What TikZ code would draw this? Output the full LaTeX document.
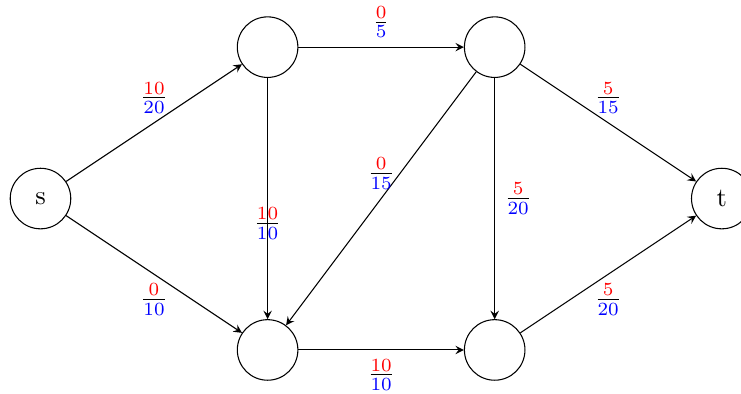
\documentclass[tikz,border=0pt]{standalone}
\usepackage{xcolor}
\newcommand\flowfrac[2]{$\frac{\textcolor{red}{#1}}{\textcolor{blue}{#2}}$}
\begin{document}
\begin{tikzpicture}[
  vert/.style={draw, circle, minimum size=0.8cm, inner sep=0pt},
  flow/.style={-stealth},
  lab/.style={inner sep=0pt}]
\useasboundingbox (-0.535,-2.570) rectangle (9.254,2.623);
\node[vert] (s) at (0,0) {s};
\node[vert] (a) at (3,2) {};
\node[vert] (b) at (6,2) {};
\node[vert] (c) at (3,-2) {};
\node[vert] (d) at (6,-2) {};
\node[vert] (t) at (9,0) {t};
\draw[flow] (s) -- node[lab, yshift=0.33cm] {\flowfrac{10}{20}} (a);
\draw[flow] (s) -- node[lab, yshift=-0.33cm] {\flowfrac{0}{10}} (c);
\draw[flow] (a) -- node[lab, yshift=0.33cm] {\flowfrac{0}{5}} (b);
\draw[flow] (a) -- node[lab, yshift=-0.33cm] {\flowfrac{10}{10}} (c);
\draw[flow] (b) -- node[lab, yshift=0.33cm] {\flowfrac{0}{15}} (c);
\draw[flow] (b) -- node[lab, xshift=0.31cm] {\flowfrac{5}{20}} (d);
\draw[flow] (b) -- node[lab, yshift=0.33cm] {\flowfrac{5}{15}} (t);
\draw[flow] (c) -- node[lab, yshift=-0.33cm] {\flowfrac{10}{10}} (d);
\draw[flow] (d) -- node[lab, yshift=-0.33cm] {\flowfrac{5}{20}} (t);
\end{tikzpicture}
\end{document}
